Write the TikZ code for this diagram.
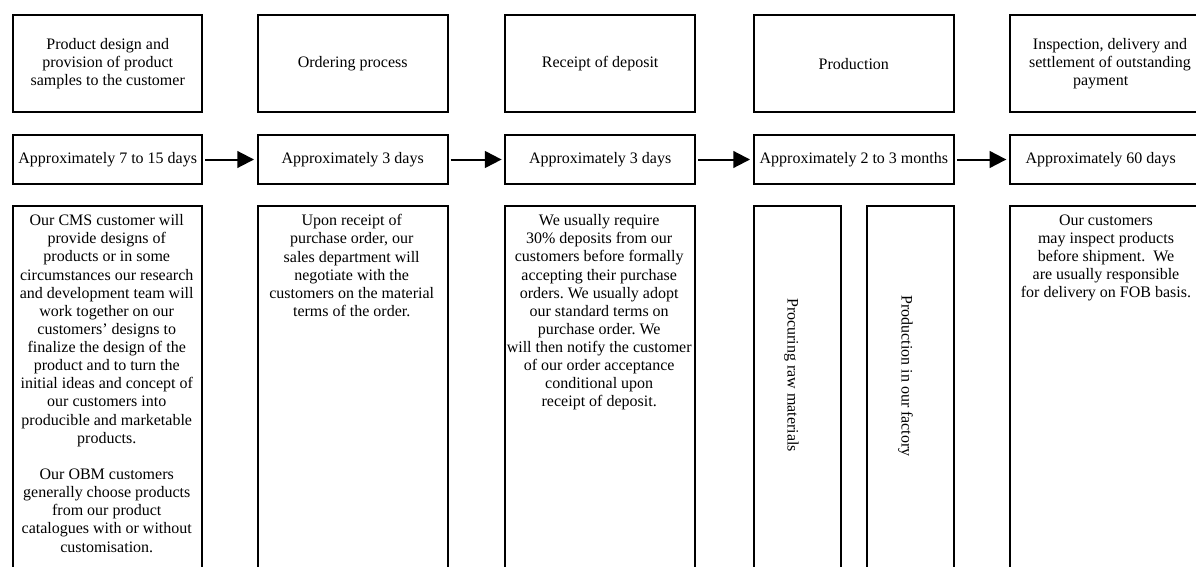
\documentclass[tikz,border=0pt]{standalone}
\usepackage{fontspec}
\setmainfont{Liberation Serif}
\usetikzlibrary{arrows.meta}
\frenchspacing

\tikzset{every picture/.style={line width=0.75pt}}
\tikzset{
  stage/.style={draw, line width=1.5, anchor=north west, inner sep=0.75pt, align=center, minimum height=73.1pt},
  period/.style={draw, line width=1.5, anchor=north west, inner sep=0.75pt, minimum height=36.75pt},
  detail/.style={draw, line width=1.5, anchor=north west, inner sep=0pt, minimum height=289pt},
  note/.style={anchor=north, inner sep=0.75pt, align=center},
  flow/.style={line width=1.5, -{Triangle[length=12.5pt,width=12.5pt]}, shorten >=2pt, shorten <=1.5pt},
}

\begin{document}
\begin{tikzpicture}[x=0.75pt,y=0.75pt,yscale=-1,xscale=1,font=\fontsize{12}{13.6}\selectfont]
\useasboundingbox (0,0) rectangle (1196,567);
\clip (0,0) rectangle (1196,567);

%Stages
\node [stage, minimum width=142.1pt] (stage1) at (12,14) {Product design and\\provision of product\\samples to the customer};
\node [stage, minimum width=142.5pt] (stage2) at (256.7,14) {Ordering process};
\node [stage, minimum width=142.3pt] (stage3) at (504.3,14) {Receipt of deposit};
\node [stage, minimum width=150.2pt] (stage4) at (752.7,14) {Production};
\node [stage, minimum width=150pt] (stage5) at (1009,14) {Inspection, delivery and\\settlement of outstanding\\payment\hspace*{14pt}};

%Periods
\node [period, minimum width=142.1pt] (time1) at (12,134) {Approximately 7 to 15 days};
\node [period, minimum width=142.5pt] (time2) at (256.7,134) {Approximately 3 days};
\node [period, minimum width=142.3pt] (time3) at (504.3,134) {Approximately 3 days};
\node [period, minimum width=150.2pt] (time4) at (752.7,134) {Approximately 2 to 3 months};
\node [period, minimum width=150pt] (time5) at (1009,134) {Approximately 60 days\hspace*{14pt}};

%Arrows
\draw [flow] (time1) -- (time2);
\draw [flow] (time2) -- (time3);
\draw [flow] (time3) -- (time4);
\draw [flow] (time4) -- (time5);

%Detail boxes
\node [detail, minimum width=142.1pt] (info1) at (12,205) {};
\node [detail, minimum width=142.5pt] (info2) at (256.7,205) {};
\node [detail, minimum width=142.3pt] (info3) at (504.3,205) {};
\node [detail, minimum width=65.5pt] (info4a) at (752.7,205) {};
\node [detail, minimum width=65.25pt] (info4b) at (866,205) {};
\node [detail, minimum width=150pt] (info5) at (1009,205) {};

% Text Node
\node [note] (note1) at (106.75,213) {Our CMS customer will\\provide designs of\\products or in some\\circumstances our research\\and development team will\\work together on our\\customers’ designs to\\finalize the design of the\\product and to turn the\\initial ideas and concept of\\our customers into\\producible and marketable\\products.\\[13.6pt]Our OBM customers\\generally choose products\\from our product\\catalogues with or without\\customisation.};
% Text Node
\node [note] (note2) at (351.7,213) {Upon receipt of\\purchase order, our\\sales department will\\negotiate with the\\customers on the material\\terms of the order.};
% Text Node
\node [note] (note3) at (599.2,213) {We usually require\\30\% deposits from our\\customers before formally\\accepting their purchase\\orders. We usually adopt\\our standard terms on\\purchase order. We\\will then notify the customer\\of our order acceptance\\conditional upon\\receipt of deposit.};
% Text Node
\node [inner sep=0.75pt, rotate=-90] (note4a) at (791.5,375) {Procuring raw materials};
% Text Node
\node [inner sep=0.75pt, rotate=-90] (note4b) at (905.5,376) {Production in our factory};
% Text Node
\node [note] (note5) at (1106,213) {Our customers\\may inspect products\\before shipment.\ \ We\\are usually responsible\\for delivery on FOB basis.};

\end{tikzpicture}
\end{document}
